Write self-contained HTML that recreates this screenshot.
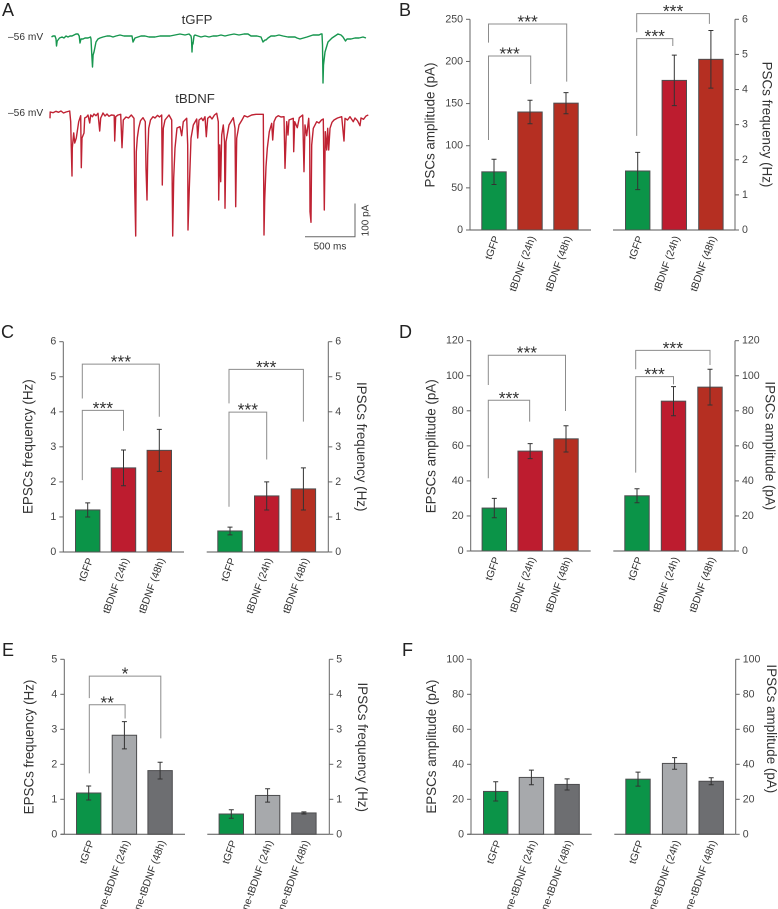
<!DOCTYPE html>
<html lang="en">
<head>
<meta charset="utf-8">
<title>PSC recordings and bar charts</title>
<style>
html,body{margin:0;padding:0;background:#fff;}
body{width:778px;height:909px;overflow:hidden;}
svg{display:block;font-family:"Liberation Sans",Arial,sans-serif;}
</style>
</head>
<body>
<svg id="figure" xmlns="http://www.w3.org/2000/svg" width="778" height="909" viewBox="0 0 778 909">
  <rect x="0" y="0" width="778" height="909" fill="#fff"/>
  <text x="2" y="16" font-size="18" fill="#222">A</text>
  <text x="399" y="16" font-size="18" fill="#222">B</text>
  <text x="1" y="338" font-size="18" fill="#222">C</text>
  <text x="399" y="338" font-size="18" fill="#222">D</text>
  <text x="2" y="656" font-size="18" fill="#222">E</text>
  <text x="402" y="656" font-size="18" fill="#222">F</text>
  <text x="197" y="24" font-size="13.2" text-anchor="middle" fill="#333">tGFP</text>
  <text x="195" y="103" font-size="13.2" text-anchor="middle" fill="#333">tBDNF</text>
  <text x="8" y="40" font-size="10.2" fill="#333">–56 mV</text>
  <text x="8" y="116" font-size="10.2" fill="#333">–56 mV</text>
  <path d="M355 203.5V236.8H305" fill="none" stroke="#666" stroke-width="1"/>
  <text x="330" y="249.5" font-size="10" text-anchor="middle" fill="#333">500 ms</text>
  <text transform="translate(368.5 220.5) rotate(-90)" font-size="10" text-anchor="middle" fill="#333">100 pA</text>
</svg>
<script>
// Panel A traces: [time (ms), current (pA relative to holding level)]
const greenTrace = [[5,-6],[20,-3],[40,-3],[50,-12],[55,-33],[62,-18],[70,-15],[85,-9],[110,-6],[130,-9],[150,-3],[170,-6],[190,-3],[210,-3],[230,0],[250,3],[270,3],[282,-3],[290,-24],[300,-12],[320,-12],[340,-9],[370,-9],[395,-6],[400,-12],[408,-60],[415,-96],[421,-60],[430,-51],[450,-21],[470,-12],[490,-9],[520,-6],[560,-3],[590,-3],[620,-6],[650,-3],[690,0],[730,-3],[770,-3],[810,-3],[815,-12],[820,-21],[830,-15],[840,-9],[870,-6],[900,-3],[940,-3],[980,-6],[1040,-6],[1090,-3],[1140,-3],[1190,-3],[1240,0],[1290,3],[1340,0],[1380,3],[1400,-3],[1405,-12],[1410,-51],[1415,-24],[1420,-27],[1430,-3],[1440,0],[1470,-3],[1500,-6],[1540,-3],[1580,-6],[1620,-3],[1660,-3],[1700,0],[1740,-3],[1780,0],[1830,3],[1880,0],[1930,3],[1970,3],[2000,-3],[2060,-3],[2100,-6],[2120,-21],[2140,-15],[2150,-15],[2170,-9],[2200,-3],[2240,-3],[2280,0],[2320,-3],[2370,-6],[2440,-6],[2460,-9],[2490,-12],[2560,-6],[2620,0],[2680,0],[2700,3],[2710,3],[2715,-30],[2720,-144],[2725,-90],[2740,-51],[2770,-21],[2810,-9],[2840,-3],[2870,3],[2900,0],[2920,-6],[2945,-18],[2960,-12],[3000,-12],[3040,-9],[3080,-9],[3120,-6],[3150,-9]];
const redTrace = [[0,-13],[2,6],[30,4],[60,8],[85,5],[110,9],[135,3],[160,6],[197,9],[207,-23],[213,-102],[220,-186],[223,-102],[237,-57],[247,-87],[263,-72],[287,-23],[307,-5],[313,-161],[320,-72],[340,-57],[347,-12],[365,-9],[380,-3],[397,-27],[407,-3],[425,-8],[440,0],[460,-5],[480,2],[497,-51],[507,-12],[520,-4],[530,3],[550,-6],[570,0],[590,-7],[613,-3],[642,-4],[647,-81],[657,-8],[680,-3],[707,-1],[720,-101],[733,-18],[760,-9],[785,-12],[813,-3],[840,-13],[843,-102],[847,-218],[857,-366],[863,-113],[873,-72],[887,-42],[905,-20],[930,-11],[953,-23],[960,-163],[970,-258],[977,-123],[987,-43],[1005,-18],[1030,-8],[1050,-12],[1075,-4],[1095,-9],[1117,-3],[1123,-213],[1133,-43],[1150,-18],[1190,-3],[1217,-18],[1223,-243],[1227,-366],[1237,-192],[1250,-102],[1270,-42],[1300,-38],[1317,-65],[1333,-23],[1367,-13],[1377,-93],[1380,-348],[1393,-223],[1410,-73],[1433,-33],[1467,-15],[1477,-72],[1490,-18],[1515,-12],[1530,-20],[1550,-8],[1563,-68],[1577,-13],[1600,-7],[1620,-15],[1645,-3],[1667,2],[1683,-23],[1687,-258],[1697,-93],[1707,-203],[1717,-63],[1733,-33],[1745,-84],[1750,-283],[1760,-83],[1790,-33],[1833,-11],[1850,-43],[1857,-278],[1867,-73],[1890,-33],[1920,-18],[1943,-5],[1975,-9],[2017,-3],[2060,-1],[2117,-1],[2133,-1],[2140,-363],[2147,-258],[2160,-158],[2173,-103],[2193,-53],[2217,-28],[2227,-78],[2240,-23],[2260,-10],[2283,-5],[2310,-9],[2340,-8],[2350,-163],[2367,-23],[2380,-63],[2390,-18],[2433,-13],[2437,-113],[2447,-23],[2473,-41],[2493,-11],[2527,-3],[2540,-173],[2550,-33],[2567,-65],[2587,-13],[2597,-73],[2600,-293],[2610,-325],[2617,-93],[2633,-43],[2667,-23],[2690,-27],[2715,-18],[2733,-15],[2743,-288],[2753,-53],[2767,-108],[2777,-43],[2787,-108],[2800,-43],[2820,-25],[2840,-18],[2875,-12],[2917,-8],[2940,-81],[2950,-13],[2975,-18],[3000,-8],[3033,-23],[3050,-12],[3075,-20],[3100,-35],[3110,-12],[3135,-16],[3160,-6],[3183,-3]];

// Shared category labels and axis ticks
const tbdnfCategories = ['tGFP','tBDNF (24h)','tBDNF (48h)'];
const neCategories = ['tGFP','ne-tBDNF (24h)','ne-tBDNF (48h)'];
const ticksTo250 = [0,50,100,150,200,250];
const ticksTo120 = [0,20,40,60,80,100,120];
const ticksTo100 = [0,20,40,60,80,100];
const ticksTo6 = [0,1,2,3,4,5,6];
const ticksTo5 = [0,1,2,3,4,5];

// Panel B
const bLeftValues = [69,140,150.5];
const bLeftErrors = [15,14,12.5];
const bLeftBrackets = [[0,2,244.4,222.3,176,'***'],[0,1,206.5,106.8,173.2,'***']];
const bRightValues = [1.68,4.26,4.86];
const bRightErrors = [0.53,0.72,0.82];
const bRightBrackets = [[0,2,6.16,5.63,5.87,'***'],[0,1,5.45,2.68,5.24,'***']];
// Panel C
const cLeftValues = [1.2,2.4,2.9];
const cLeftErrors = [0.2,0.51,0.6];
const cLeftBrackets = [[0,2,5.36,4.38,3.86,'***'],[0,1,4.04,2.05,3.46,'***']];
const cRightValues = [0.6,1.6,1.8];
const cRightErrors = [0.11,0.4,0.6];
const cRightBrackets = [[0,2,5.21,4.24,3.72,'***'],[0,1,3.99,1.29,2.64,'***']];
// Panel D
const dLeftValues = [24.5,57,64];
const dLeftErrors = [5.5,4.3,7.5];
const dLeftBrackets = [[0,2,111.7,94.7,79.9,'***'],[0,1,86,41.5,73.8,'***']];
const dRightValues = [31.5,85.5,93.5];
const dRightErrors = [4,8.3,10.2];
const dRightBrackets = [[0,2,114.5,103.7,106.1,'***'],[0,1,99.5,44.7,95.1,'***']];
// Panel E
const eLeftValues = [1.18,2.83,1.82];
const eLeftErrors = [0.2,0.39,0.24];
const eLeftBrackets = [[0,2,4.52,3.89,2.74,'*'],[0,1,3.7,1.74,3.31,'**']];
const eRightValues = [0.58,1.11,0.61];
const eRightErrors = [0.12,0.19,0.03];
// Panel F
const fLeftValues = [24.5,32.5,28.5];
const fLeftErrors = [5.5,4.2,3.2];
const fRightValues = [31.5,40.5,30.3];
const fRightErrors = [4,3.3,2];

const SVG_NS = 'http://www.w3.org/2000/svg';
const root = document.getElementById('figure');
const GREEN = '#0b9448', CRIMSON = '#bd1c2f', BRICK = '#b52f22', LIGHT = '#a7a9ac', DARK = '#6d6e71';

function mk(tag, attrs, parent) {
  const el = document.createElementNS(SVG_NS, tag);
  for (const k in attrs) el.setAttribute(k, attrs[k]);
  (parent || root).appendChild(el);
  return el;
}

function drawTrace(name, samples, originX, originY, color) {
  const xOf = t => originX + t / 10;      // 500 ms = 50 px
  const yOf = i => originY - i / 3;       // 100 pA = 33.3 px
  const pts = samples.map(s => xOf(s[0]).toFixed(1) + ',' + yOf(s[1]).toFixed(1)).join(' ');
  const line = mk('polyline', {points: pts, fill: 'none', stroke: color, 'stroke-width': 1.4, 'stroke-linejoin': 'round'});
  
  
}
drawTrace('trace-tgfp', greenTrace, 51, 35, '#17964f');
drawTrace('trace-tbdnf', redTrace, 50, 114, '#bf2233');

function drawBarChart(c) {
  const max = c.ticks[c.ticks.length - 1];
  const yOf = v => c.y0 - v / max * (c.y0 - c.yTop);
  const xOf = i => c.first + i * c.step;
  const barW = 24.4;
  const g = mk('g', {});
  
  

  c.values.forEach((v, i) => {
    const bar = mk('rect', {x: xOf(i) - barW / 2, y: yOf(v), width: barW, height: c.y0 - yOf(v), fill: c.colors[i], stroke: '#4d4d4f', 'stroke-width': 1}, g);
    
    
    const hi = yOf(v + c.errors[i]), lo = yOf(v - c.errors[i]);
    const err = mk('path', {d: `M${xOf(i)} ${hi}V${lo}M${xOf(i) - 2.5} ${hi}h5M${xOf(i) - 2.5} ${lo}h5`, fill: 'none', stroke: '#333', 'stroke-width': 1}, g);
    
    
    const label = mk('text', {transform: `translate(${xOf(i) + 5.5} ${c.y0 + 7.5}) rotate(-70)`, 'font-size': 10.4, 'text-anchor': 'end', fill: '#333'}, g);
    label.textContent = c.categories[i];
    
    
  });

  const base = mk('line', {x1: c.x0, x2: c.x1, y1: c.y0, y2: c.y0, stroke: '#555', 'stroke-width': 1}, g);
  
  
  const axis = mk('line', {x1: c.axisX, x2: c.axisX, y1: c.yTop, y2: c.y0, stroke: '#666', 'stroke-width': 1}, g);
  
  

  const dir = c.side === 'left' ? -1 : 1;
  c.ticks.forEach(t => {
    const tick = mk('line', {x1: c.axisX, x2: c.axisX + dir * 4, y1: yOf(t), y2: yOf(t), stroke: '#666', 'stroke-width': 1}, g);
    
    
    const lab = mk('text', {x: c.axisX + dir * 7, y: yOf(t) + 3, 'font-size': 10.6, 'text-anchor': c.side === 'left' ? 'end' : 'start', fill: '#444'}, g);
    lab.textContent = t;
    
    
  });

  const title = mk('text', {transform: `translate(${c.titleX} ${c.titleY}) rotate(${c.side === 'left' ? -90 : 90})`, 'font-size': 13.4, 'text-anchor': 'middle', fill: '#333'}, g);
  title.textContent = c.title;
  
  

  (c.brackets || []).forEach((b, i) => {
    const xa = xOf(b[0]) + c.fromNudge, xb = xOf(b[1]) + c.toNudge, top = yOf(b[2]);
    const br = mk('path', {d: `M${xa} ${yOf(b[3])}V${top}H${xb}V${yOf(b[4])}`, fill: 'none', stroke: '#8c8c8c', 'stroke-width': 1}, g);
    
    
    const st = mk('text', {x: (xa + xb) / 2, y: top + 3.5, 'font-size': 17.5, 'text-anchor': 'middle', fill: '#333'}, g);
    st.textContent = b[5];
    
    
  });
}

const redSet = [GREEN, CRIMSON, BRICK];
const graySet = [GREEN, LIGHT, DARK];

drawBarChart({name:'psc-amplitude-chart', side:'left', title:'PSCs amplitude (pA)', titleX:434.5, titleY:125, categories:tbdnfCategories, ticks:ticksTo250, values:bLeftValues, errors:bLeftErrors, brackets:bLeftBrackets, colors:[GREEN,BRICK,BRICK], y0:230, yTop:19.3, axisX:470, x0:467, x1:591, first:494, step:36, fromNudge:-5.5, toNudge:0.7});
drawBarChart({name:'psc-frequency-chart', side:'right', title:'PSCs frequency (Hz)', titleX:762.5, titleY:124.5, categories:tbdnfCategories, ticks:ticksTo6, values:bRightValues, errors:bRightErrors, brackets:bRightBrackets, colors:redSet, y0:230, yTop:19.3, axisX:735, x0:613, x1:735, first:637.7, step:36.6, fromNudge:-1, toNudge:-1.5});

drawBarChart({name:'epsc-frequency-chart-c', side:'left', title:'EPSCs frequency (Hz)', titleX:32.5, titleY:446.7, categories:tbdnfCategories, ticks:ticksTo6, values:cLeftValues, errors:cLeftErrors, brackets:cLeftBrackets, colors:redSet, y0:552, yTop:341.7, axisX:63.3, x0:60, x1:184, first:87.7, step:35.8, fromNudge:-5.4, toNudge:0});
drawBarChart({name:'ipsc-frequency-chart-c', side:'right', title:'IPSCs frequency (Hz)', titleX:357, titleY:446.7, categories:tbdnfCategories, ticks:ticksTo6, values:cRightValues, errors:cRightErrors, brackets:cRightBrackets, colors:redSet, y0:552, yTop:341.7, axisX:328.3, x0:206.7, x1:328.3, first:230, step:36.7, fromNudge:-1, toNudge:0});

drawBarChart({name:'epsc-amplitude-chart-d', side:'left', title:'EPSCs amplitude (pA)', titleX:435.5, titleY:446.3, categories:tbdnfCategories, ticks:ticksTo120, values:dLeftValues, errors:dLeftErrors, brackets:dLeftBrackets, colors:redSet, y0:551, yTop:340.7, axisX:470.7, x0:467, x1:590.7, first:494.3, step:35.85, fromNudge:-6, toNudge:-0.5});
drawBarChart({name:'ipsc-amplitude-chart-d', side:'right', title:'IPSCs amplitude (pA)', titleX:765.5, titleY:445.8, categories:tbdnfCategories, ticks:ticksTo120, values:dRightValues, errors:dRightErrors, brackets:dRightBrackets, colors:redSet, y0:551, yTop:340.7, axisX:735, x0:613.3, x1:735, first:637, step:36.5, fromNudge:-1.3, toNudge:0});

drawBarChart({name:'epsc-frequency-chart-e', side:'left', title:'EPSCs frequency (Hz)', titleX:33.5, titleY:747, categories:neCategories, ticks:ticksTo5, values:eLeftValues, errors:eLeftErrors, brackets:eLeftBrackets, colors:graySet, y0:834.3, yTop:659.3, axisX:64.3, x0:61, x1:185, first:88.7, step:35.7, fromNudge:0.6, toNudge:0.7});
drawBarChart({name:'ipsc-frequency-chart-e', side:'right', title:'IPSCs frequency (Hz)', titleX:358, titleY:747.2, categories:neCategories, ticks:ticksTo5, values:eRightValues, errors:eRightErrors, colors:graySet, y0:834.3, yTop:659.3, axisX:329.3, x0:207.3, x1:329.3, first:231.3, step:36.3, fromNudge:0, toNudge:0});

drawBarChart({name:'epsc-amplitude-chart-f', side:'left', title:'EPSCs amplitude (pA)', titleX:436, titleY:746.7, categories:neCategories, ticks:ticksTo100, values:fLeftValues, errors:fLeftErrors, colors:graySet, y0:834.3, yTop:659.3, axisX:471, x0:467.5, x1:591.7, first:495.7, step:35.7, fromNudge:0, toNudge:0});
drawBarChart({name:'ipsc-amplitude-chart-f', side:'right', title:'IPSCs amplitude (pA)', titleX:767, titleY:728.8, categories:neCategories, ticks:ticksTo100, values:fRightValues, errors:fRightErrors, colors:graySet, y0:834.3, yTop:659.3, axisX:735.7, x0:614.3, x1:735.7, first:638, step:36.6, fromNudge:0, toNudge:0});
</script>
</body>
</html>
